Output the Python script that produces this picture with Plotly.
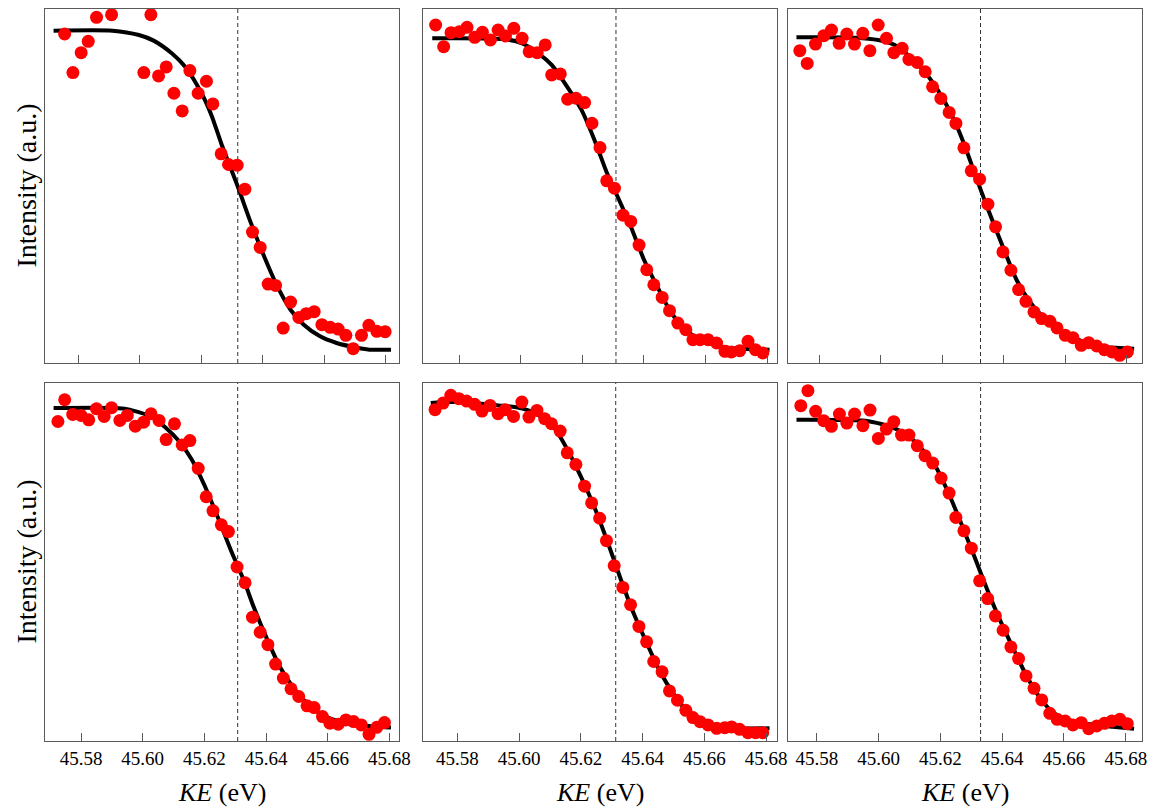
import plotly.graph_objects as go
from plotly.subplots import make_subplots

# ---------------- data (KE in eV, intensity in a.u.) ----------------
ke_p1 = [45.5755, 45.5782, 45.5809, 45.5832, 45.5859, 45.5884, 45.5908, 45.5932, 45.5959, 45.5986,
         45.6013, 45.6036, 45.6061, 45.6086, 45.6111, 45.6138, 45.6163, 45.6190, 45.6217, 45.6238,
         45.6265, 45.6289, 45.6317, 45.6342, 45.6367, 45.6392, 45.6418, 45.6442, 45.6467, 45.6491,
         45.6518, 45.6542, 45.6568, 45.6593, 45.6620, 45.6646, 45.6671, 45.6695, 45.6722, 45.6746,
         45.6772, 45.6799]
int_p1 = [988, 872, 932, 966, 1038, 1115, 1046, 1120, 1110, 1125,
          872, 1046, 862, 889, 810, 757, 878, 810, 846, 778,
          628, 596, 594, 522, 393, 347, 237, 233, 105, 183,
          137, 148, 154, 115, 107, 102, 83, 43, 83, 113,
          95, 94]
fit_ke_p1 = [45.5719, 45.5911, 45.5997, 45.6045, 45.6104, 45.6147, 45.6201, 45.6233, 45.6265, 45.6319,
             45.6362, 45.6405, 45.6448, 45.6491, 45.6534, 45.6587, 45.6641, 45.6695, 45.6748, 45.6818]
fit_p1 = [998, 998, 985, 968, 930, 890, 810, 745, 660, 530,
          420, 320, 230, 160, 115, 80, 60, 48, 40, 40]

ke_p2 = [45.5723, 45.5749, 45.5773, 45.5800, 45.5825, 45.5850, 45.5875, 45.5901, 45.5926, 45.5950,
         45.5977, 45.6004, 45.6027, 45.6053, 45.6079, 45.6100, 45.6128, 45.6152, 45.6179, 45.6207,
         45.6231, 45.6257, 45.6279, 45.6304, 45.6332, 45.6357, 45.6384, 45.6409, 45.6432, 45.6459,
         45.6483, 45.6510, 45.6536, 45.6559, 45.6582, 45.6608, 45.6636, 45.6663, 45.6684, 45.6711,
         45.6738, 45.6762, 45.6786]
int_p2 = [1015, 950, 992, 995, 1008, 978, 993, 970, 1000, 982,
          1005, 975, 935, 932, 955, 865, 868, 792, 795, 782,
          720, 647, 547, 525, 444, 425, 354, 280, 235, 197,
          157, 120, 100, 70, 70, 70, 60, 35, 33, 37,
          65, 40, 30]
fit_ke_p2 = [45.5712, 45.5950, 45.6004, 45.6057, 45.6100, 45.6143, 45.6197, 45.6239, 45.6282, 45.6314,
             45.6357, 45.6400, 45.6443, 45.6486, 45.6529, 45.6572, 45.6625, 45.6679, 45.6732, 45.6808]
fit_p2 = [975, 972, 960, 930, 895, 840, 760, 670, 565, 500,
          410, 310, 230, 155, 105, 75, 55, 45, 42, 40]

ke_p3 = [45.5736, 45.5760, 45.5787, 45.5814, 45.5839, 45.5864, 45.5889, 45.5914, 45.5941, 45.5964,
         45.5991, 45.6018, 45.6042, 45.6069, 45.6091, 45.6118, 45.6144, 45.6168, 45.6195, 45.6222,
         45.6244, 45.6270, 45.6294, 45.6321, 45.6348, 45.6373, 45.6397, 45.6423, 45.6448, 45.6472,
         45.6498, 45.6523, 45.6550, 45.6573, 45.6600, 45.6625, 45.6652, 45.6676, 45.6702, 45.6727,
         45.6752, 45.6777, 45.6802]
int_p3 = [936, 898, 956, 981, 998, 958, 986, 956, 988, 936,
          1013, 973, 930, 943, 910, 901, 873, 828, 793, 751,
          718, 645, 576, 551, 476, 408, 333, 278, 220, 185,
          153, 133, 125, 105, 83, 76, 53, 61, 51, 40,
          33, 23, 33]
fit_ke_p3 = [45.5725, 45.5916, 45.5991, 45.6045, 45.6088, 45.6142, 45.6185, 45.6228, 45.6270, 45.6313,
             45.6356, 45.6399, 45.6442, 45.6485, 45.6528, 45.6571, 45.6625, 45.6679, 45.6732, 45.6824]
fit_p3 = [976, 975, 968, 953, 923, 873, 818, 748, 658, 548,
          443, 343, 248, 183, 138, 103, 76, 58, 48, 43]

ke_p4 = [45.5725, 45.5747, 45.5773, 45.5800, 45.5825, 45.5850, 45.5875, 45.5899, 45.5926, 45.5950,
         45.5976, 45.6003, 45.6027, 45.6053, 45.6076, 45.6103, 45.6128, 45.6153, 45.6180, 45.6206,
         45.6228, 45.6255, 45.6278, 45.6306, 45.6332, 45.6356, 45.6381, 45.6406, 45.6431, 45.6456,
         45.6481, 45.6506, 45.6533, 45.6556, 45.6583, 45.6607, 45.6634, 45.6659, 45.6684, 45.6709,
         45.6734, 45.6759, 45.6784]
int_p4 = [955, 1020, 976, 973, 960, 993, 970, 996, 958, 973,
          941, 953, 978, 958, 901, 948, 885, 898, 815, 730,
          688, 646, 626, 520, 473, 370, 325, 288, 230, 188,
          156, 133, 105, 100, 73, 53, 50, 63, 58, 48,
          20, 41, 55]
fit_ke_p4 = [45.5711, 45.5934, 45.5987, 45.6030, 45.6073, 45.6116, 45.6158, 45.6201, 45.6244, 45.6287,
             45.6329, 45.6361, 45.6404, 45.6447, 45.6490, 45.6533, 45.6586, 45.6640, 45.6693, 45.6747,
             45.6805]
fit_p4 = [995, 994, 983, 968, 938, 898, 843, 763, 668, 568,
          478, 398, 303, 218, 158, 113, 76, 58, 50, 43,
          40]

ke_p5 = [45.5728, 45.5754, 45.5779, 45.5805, 45.5830, 45.5856, 45.5880, 45.5906, 45.5932, 45.5955,
         45.5982, 45.6009, 45.6032, 45.6058, 45.6083, 45.6105, 45.6133, 45.6156, 45.6184, 45.6212,
         45.6235, 45.6261, 45.6283, 45.6308, 45.6336, 45.6361, 45.6388, 45.6413, 45.6436, 45.6463,
         45.6487, 45.6513, 45.6540, 45.6563, 45.6586, 45.6612, 45.6640, 45.6666, 45.6688, 45.6714,
         45.6741, 45.6766, 45.6789]
int_p5 = [992, 1012, 1035, 1025, 1018, 1008, 988, 1005, 980, 992,
          972, 1015, 970, 990, 965, 950, 928, 863, 828, 763,
          713, 667, 600, 525, 460, 408, 343, 297, 238, 207,
          150, 122, 92, 70, 58, 48, 38, 40, 42, 35,
          25, 25, 25]
fit_ke_p5 = [45.5714, 45.5773, 45.5827, 45.5880, 45.5934, 45.5987, 45.6030, 45.6073, 45.6116, 45.6158,
             45.6201, 45.6244, 45.6287, 45.6329, 45.6372, 45.6415, 45.6458, 45.6501, 45.6543, 45.6597,
             45.6650, 45.6704, 45.6811]
fit_p5 = [1012, 1015, 1014, 1010, 1005, 1000, 990, 970, 935, 870,
          790, 700, 595, 485, 380, 290, 205, 140, 90, 55,
          42, 38, 38]

ke_p6 = [45.5748, 45.5771, 45.5796, 45.5822, 45.5847, 45.5873, 45.5897, 45.5922, 45.5949, 45.5972,
         45.5999, 45.6025, 45.6049, 45.6074, 45.6098, 45.6125, 45.6150, 45.6175, 45.6202, 45.6228,
         45.6250, 45.6276, 45.6300, 45.6327, 45.6353, 45.6378, 45.6403, 45.6428, 45.6453, 45.6477,
         45.6503, 45.6528, 45.6554, 45.6578, 45.6604, 45.6629, 45.6656, 45.6680, 45.6706, 45.6731,
         45.6755, 45.6781, 45.6805]
int_p6 = [1005, 1050, 988, 960, 943, 980, 953, 980, 945, 992,
          907, 935, 957, 917, 917, 885, 855, 833, 788, 743,
          670, 630, 578, 480, 427, 375, 332, 282, 247, 195,
          158, 123, 83, 65, 60, 48, 55, 37, 45, 53,
          60, 65, 52]
fit_ke_p6 = [45.5734, 45.5956, 45.6009, 45.6052, 45.6095, 45.6138, 45.6180, 45.6223, 45.6266, 45.6309,
             45.6351, 45.6394, 45.6437, 45.6479, 45.6522, 45.6565, 45.6608, 45.6650, 45.6704, 45.6757,
             45.6827]
fit_p6 = [963, 960, 950, 937, 915, 877, 830, 750, 655, 555,
          455, 360, 275, 195, 130, 85, 65, 55, 48, 43,
          37]

fermi_edge = [45.6319, 45.6309, 45.6324, 45.6308, 45.6313, 45.6330]
tick_vals = [45.58, 45.60, 45.62, 45.64, 45.66, 45.68]
tick_text = ["45.58", "45.60", "45.62", "45.64", "45.66", "45.68"]

panels = [
    (ke_p1, int_p1, fit_ke_p1, fit_p1),
    (ke_p2, int_p2, fit_ke_p2, fit_p2),
    (ke_p3, int_p3, fit_ke_p3, fit_p3),
    (ke_p4, int_p4, fit_ke_p4, fit_p4),
    (ke_p5, int_p5, fit_ke_p5, fit_p5),
    (ke_p6, int_p6, fit_ke_p6, fit_p6),
]

# ---------------- layout geometry (screen pixels) ----------------
OFF = 8  # default page body margin in the browser
W, H = 1167 - OFF, 811 - OFF
x_ranges = [(45.5690, 45.6845), (45.5682, 45.6831), (45.5696, 45.6850),
            (45.5682, 45.6832), (45.5689, 45.6834), (45.5705, 45.6853)]
y_tops = [1063, 1063, 1061, 1070, 1072, 1073]
col_px = [(45, 403), (427, 784), (795, 1153)]
row_px = [(9, 363), (383, 741)]


def px(v):
    return v - OFF


FONT = "Liberation Serif, Times New Roman, serif"
AXC = "#5a5a5a"

fig = make_subplots(rows=2, cols=3)

for i, (kx, iy, fx, fy) in enumerate(panels):
    r, c = i // 3 + 1, i % 3 + 1
    fig.add_trace(go.Scatter(x=fx, y=fy, mode="lines",
                             line=dict(color="black", width=4, shape="spline", smoothing=0.7),
                             showlegend=False, hoverinfo="skip"), row=r, col=c)
    fig.add_trace(go.Scatter(x=kx, y=iy, mode="markers",
                             marker=dict(color="#ff0000", size=13, line=dict(width=0)),
                             showlegend=False, cliponaxis=True), row=r, col=c)

for i in range(6):
    r, c = i // 3, i % 3
    sfx = "" if i == 0 else str(i + 1)
    x0, x1 = col_px[c]
    y0, y1 = row_px[r]
    fig.layout["xaxis" + sfx].update(
        domain=[px(x0) / W, px(x1) / W], range=list(x_ranges[i]),
        showline=True, linecolor=AXC, linewidth=1, mirror=True,
        ticks="inside", ticklen=8, tickwidth=1, tickcolor=AXC,
        tickvals=tick_vals, ticktext=tick_text,
        showticklabels=(r == 1), showgrid=False, zeroline=False,
        tickfont=dict(family=FONT, size=19, color="black"),
    )
    fig.layout["yaxis" + sfx].update(
        domain=[1 - px(y1) / H, 1 - px(y0) / H], range=[0, y_tops[i]],
        showline=True, linecolor=AXC, linewidth=1, mirror=True,
        ticks="", showticklabels=False, showgrid=False, zeroline=False,
    )
    fig.add_shape(type="line", xref="x" + sfx, yref="y" + sfx + " domain",
                  x0=fermi_edge[i], x1=fermi_edge[i], y0=0, y1=1,
                  line=dict(color="#333333", width=1, dash="4px,3px"), layer="below")

annotations = []
for c in range(3):
    x0, x1 = col_px[c]
    annotations.append(dict(text="<i>KE</i> (eV)", x=px((x0 + x1) / 2) / W, y=1 - px(792) / H,
                            xref="paper", yref="paper", showarrow=False,
                            xanchor="center", yanchor="middle",
                            font=dict(family=FONT, size=26, color="black")))
for r in range(2):
    y0, y1 = row_px[r]
    annotations.append(dict(text="Intensity (a.u.)", x=0, y=1 - px((y0 + y1) / 2) / H,
                            xref="paper", yref="paper", showarrow=False, textangle=-90,
                            xanchor="left", yanchor="middle",
                            font=dict(family=FONT, size=28, color="black")))

fig.update_layout(
    width=W, height=H, margin=dict(l=0, r=0, t=0, b=0),
    paper_bgcolor="white", plot_bgcolor="white",
    annotations=annotations, showlegend=False,
)

fig.write_html("out.html")
